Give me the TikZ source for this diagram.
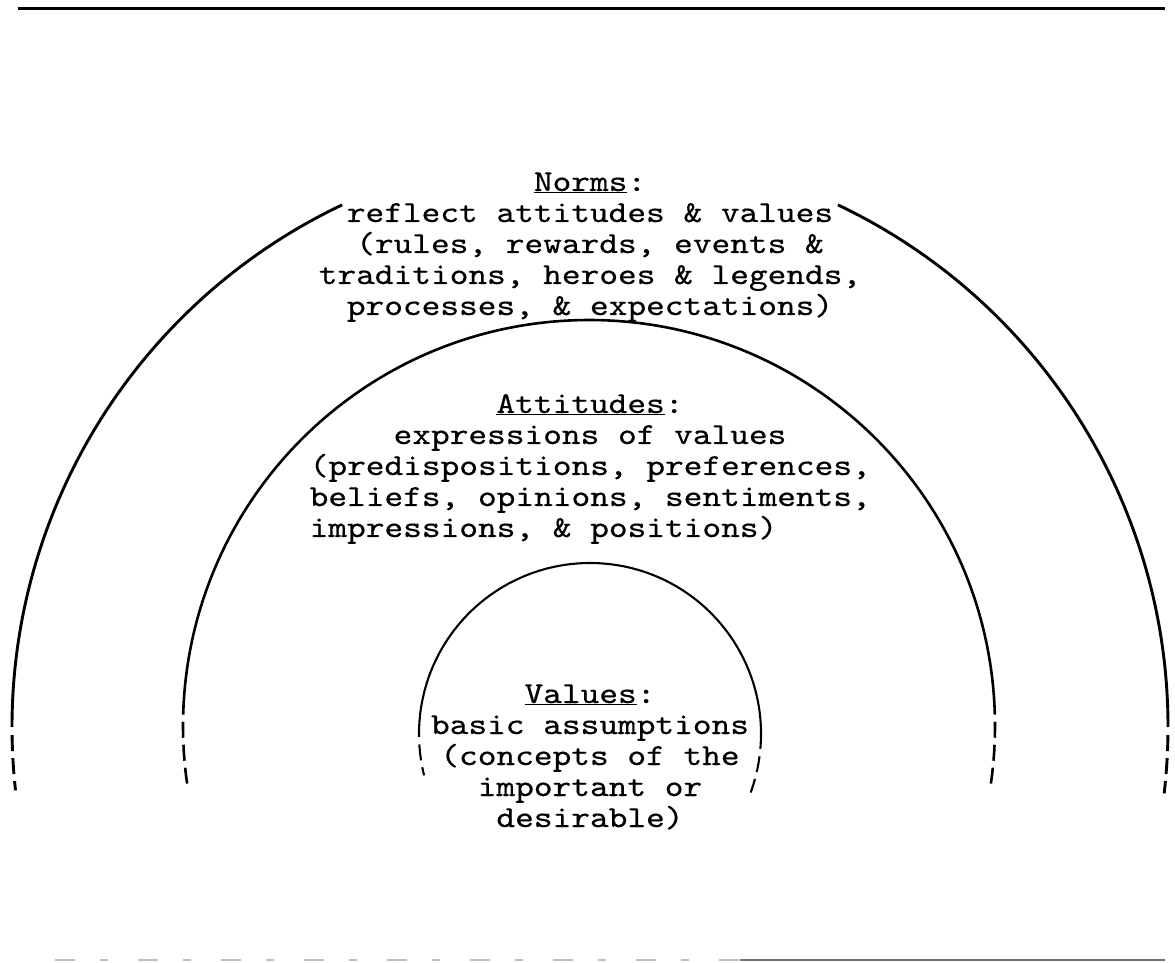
\documentclass[tikz,border=0pt]{standalone}
\usepackage{fontspec}
\newfontfamily\twfont{lmmono10-regular}[Extension=.otf, FakeBold=0.5, FakeStretch=1.168]
\begin{document}
\begin{tikzpicture}[x=1pt,y=1pt,
  txt/.style={inner sep=0pt, font=\twfont\fontsize{30.5}{31}\selectfont, anchor=base},
  txtl/.style={txt, anchor=base west},
  outerarc/.style={line width=2.9pt},
  midarc/.style={line width=2.6pt},
  innerarc/.style={line width=2.1pt},
  dasharc/.style={dash pattern=on 16pt off 7pt}]
\useasboundingbox (0,0) rectangle (1175,962);

% rules at top and bottom
\coordinate (tl) at (18,953);
\coordinate (tr) at (1165,953);
\draw[line width=3pt] (tl) -- (tr);
\coordinate (bl) at (55,2);
\coordinate (bm) at (740,2);
\coordinate (br) at (1165,2);
\draw[line width=1.5pt, black!25, dash pattern=on 20pt off 25pt on 8pt off 30pt] (bl) -- (bm);
\draw[line width=1.5pt, black!55] (bm) -- (br);

% centres
\coordinate (oc) at (590,235);
\coordinate (mc) at (589,236);
\coordinate (ic) at (590,228);

% outer arc (gap behind Norms text)
\draw[outerarc] (oc) ++(115.4:578) arc[start angle=115.4, end angle=180, radius=578];
\draw[outerarc] (oc) ++(64.6:578) arc[start angle=64.6, end angle=0, radius=578];
\draw[outerarc, dasharc] (oc) ++(180.8:578) arc[start angle=180.8, end angle=186.3, radius=578];
\draw[outerarc, dasharc] (oc) ++(-0.8:578) arc[start angle=-0.8, end angle=-6.6, radius=578];

% middle arc
\draw[midarc] (mc) ++(1.6:406) arc[start angle=1.6, end angle=178.4, radius=406];
\draw[midarc, dasharc] (mc) ++(179.4:406) arc[start angle=179.4, end angle=188.8, radius=406];
\draw[midarc, dasharc] (mc) ++(0.6:406) arc[start angle=0.6, end angle=-8.4, radius=406];

% inner arc
\draw[innerarc] (ic) ++(-5:171) arc[start angle=-5, end angle=181, radius=171];
\draw[innerarc, dasharc] (ic) ++(183.5:171) arc[start angle=183.5, end angle=194, radius=171];
\draw[innerarc, dasharc] (ic) ++(-7.5:171) arc[start angle=-7.5, end angle=-20, radius=171];

% Norms block
\node[txt] (n1) at (590,771) {\underline{Norms}:};
\node[txt] (n2) at (590,740) {reflect attitudes \& values};
\node[txt] (n3) at (590,709) {(rules, rewards, events \&};
\node[txt] (n4) at (590,678) {traditions, heroes \& legends,};
\node[txt] (n5) at (590,647) {processes, \& expectations)};

% Attitudes block
\node[txt] (a1) at (590,549) {\underline{Attitudes}:};
\node[txt] (a2) at (590,518) {expressions of values};
\node[txtl] (a3) at (309.5,487) {(predispositions, preferences,};
\node[txtl] (a4) at (309.5,456) {beliefs, opinions, sentiments,};
\node[txtl] (a5) at (309.5,425) {impressions, \& positions)};

% Values block
\node[txt] (v1) at (590,259) {\underline{Values}:};
\node[txt] (v2) at (590,228) {basic assumptions};
\node[txt] (v3) at (590,197) {(concepts of the};
\node[txt] (v4) at (590,166) {important or};
\node[txt] (v5) at (590,135) {desirable)};
\end{tikzpicture}
\end{document}
